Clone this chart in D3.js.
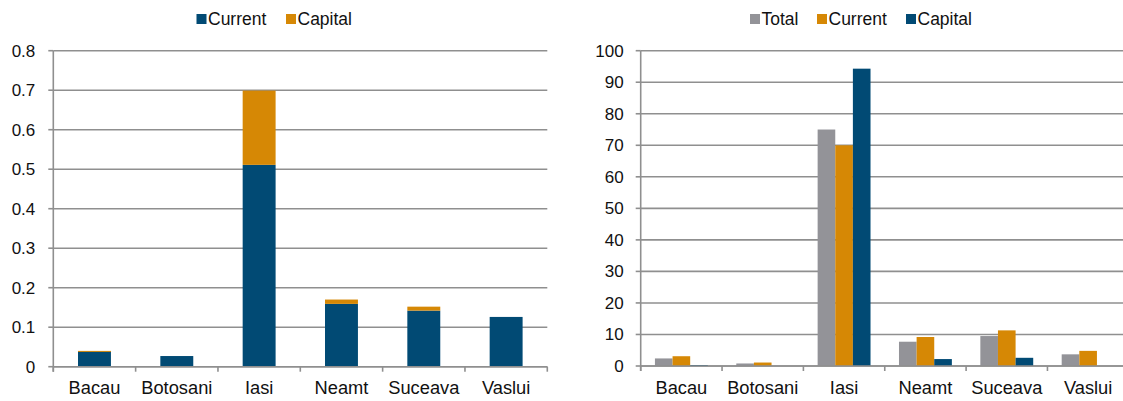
<!DOCTYPE html>
<html><head><meta charset="utf-8">
<script src="https://cdn.jsdelivr.net/npm/d3@7"></script>
<style>
body{margin:0;background:#fff;}
svg{display:block;font-family:"Liberation Sans",Arial,sans-serif;}
</style></head>
<body><svg id="c" width="1123" height="401"></svg>
<script>
const categories = ["Bacau","Botosani","Iasi","Neamt","Suceava","Vaslui"];
// Left chart (stacked)
const leftCurrent = [0.039,0.027,0.511,0.159,0.142,0.126];
const leftCapital = [0.001,0.0,0.188,0.011,0.010,0.0];
const leftTicks = [0,0.1,0.2,0.3,0.4,0.5,0.6,0.7,0.8];
// Right chart (grouped)
const rightTotal = [2.4,0.8,75.0,7.7,9.5,3.7];
const rightCurrent = [3.1,1.1,70.0,9.2,11.3,4.8];
const rightCapital = [0.3,0.0,94.3,2.2,2.6,0.0];
const rightTicks = [0,10,20,30,40,50,60,70,80,90,100];

const BLUE="#014a74", ORANGE="#d68805", GREY="#939398", AX="#8f8f8f";
const svg = d3.select("#c");
const fs = 17;

function frame(g, x0, x1, y, ticks, fmt, labelGap){
  g.selectAll(".grid").data(ticks).join("line")
    .attr("x1", x0).attr("x2", x1)
    .attr("y1", d=>y(d)).attr("y2", d=>y(d))
    .attr("stroke", AX).attr("stroke-width", 1.6);
  g.selectAll(".yt").data(ticks).join("line")
    .attr("x1", x0-5).attr("x2", x0)
    .attr("y1", d=>y(d)).attr("y2", d=>y(d))
    .attr("stroke", AX).attr("stroke-width", 1.6);
  g.selectAll(".yl").data(ticks).join("text")
    .attr("x", x0-labelGap).attr("y", d=>y(d)+6)
    .attr("text-anchor","end").attr("font-size", fs).attr("fill","#111")
    .text(fmt);
  g.append("line").attr("x1",x0).attr("x2",x0)
    .attr("y1", y(ticks[ticks.length-1])).attr("y2", y(0)+5)
    .attr("stroke", AX).attr("stroke-width", 1.6);
}
function xaxis(g, xb, y0){
  const step = xb.step();
  const bounds = categories.map(c=>xb(c)).concat([xb(categories[categories.length-1])+step]);
  g.selectAll(".xt").data(bounds).join("line")
    .attr("x1", d=>d).attr("x2", d=>d).attr("y1", y0).attr("y2", y0+5)
    .attr("stroke", AX).attr("stroke-width", 1.6);
  g.selectAll(".xl").data(categories).join("text")
    .attr("x", d=>xb(d)+step/2).attr("y", y0+27.5)
    .attr("text-anchor","middle").attr("font-size", 18.3).attr("fill","#111")
    .text(d=>d);
}
function legend(g, items, xs, yc){
  items.forEach((it,i)=>{
    g.append("rect").attr("x", xs[i]).attr("y", yc-5).attr("width",10).attr("height",10).attr("fill", it[1]);
    g.append("text").attr("x", xs[i]+11.5).attr("y", yc+6).attr("font-size", 17.5).attr("fill","#111").text(it[0]);
  });
}

// ---------- Left chart ----------
{
  const g = svg.append("g");
  const x0=53.3, x1=547.3;
  const y = d3.scaleLinear().domain([0,0.8]).range([366.7,50.7]);
  const xb = d3.scaleBand().domain(categories).range([x0,x1]).padding(0);
  const xbar = d3.scaleBand().domain(categories).range([x0,x1]).paddingInner(0.6).paddingOuter(0.3);
  frame(g, x0, x1, y, leftTicks, d=>d===0?"0":d3.format(".1f")(d), 18);
  const data = categories.map((c,i)=>({c, cur:leftCurrent[i], cap:leftCapital[i]}));
  g.selectAll(".cur").data(data).join("rect")
    .attr("x", d=>xbar(d.c)).attr("width", xbar.bandwidth())
    .attr("y", d=>y(d.cur)).attr("height", d=>y(0)-y(d.cur)).attr("fill", BLUE);
  g.selectAll(".cap").data(data.filter(d=>d.cap>0)).join("rect")
    .attr("x", d=>xbar(d.c)).attr("width", xbar.bandwidth())
    .attr("y", d=>y(d.cur+d.cap)).attr("height", d=>Math.max(1,y(d.cur)-y(d.cur+d.cap))).attr("fill", ORANGE);
  g.append("line").attr("x1",x0).attr("x2",x1).attr("y1",y(0)).attr("y2",y(0)).attr("stroke",AX).attr("stroke-width",1.6);
  xaxis(g, xb, y(0));
  legend(g, [["Current",BLUE],["Capital",ORANGE]], [196.5,286], 19);
}

// ---------- Right chart ----------
{
  const g = svg.append("g");
  const x0=640.7, step=81.35;
  const x1 = x0 + step*categories.length;
  const y = d3.scaleLinear().domain([0,100]).range([366,50.7]);
  const xb = d3.scaleBand().domain(categories).range([x0,x1]).padding(0);
  const xg = d3.scaleBand().domain(categories).range([x0,x1]).paddingInner(0.35).paddingOuter(0.175);
  const series = [["Total",rightTotal,GREY],["Current",rightCurrent,ORANGE],["Capital",rightCapital,BLUE]];
  const xs = d3.scaleBand().domain(series.map(s=>s[0])).range([0,xg.bandwidth()]).padding(0);
  frame(g, x0, x1, y, rightTicks, d=>String(d), 17);
  series.forEach(s=>{
    const data = categories.map((c,i)=>({c, v:s[1][i]})).filter(d=>d.v>0);
    g.selectAll(".b"+s[0]).data(data).join("rect")
      .attr("x", d=>xg(d.c)+xs(s[0])).attr("width", xs.bandwidth())
      .attr("y", d=>y(d.v)).attr("height", d=>y(0)-y(d.v)).attr("fill", s[2]);
  });
  g.append("line").attr("x1",x0).attr("x2",x1).attr("y1",y(0)).attr("y2",y(0)).attr("stroke",AX).attr("stroke-width",1.6);
  xaxis(g, xb, y(0));
  legend(g, series.map(s=>[s[0],s[2]]), [750,817,906], 19);
}
</script></body></html>
